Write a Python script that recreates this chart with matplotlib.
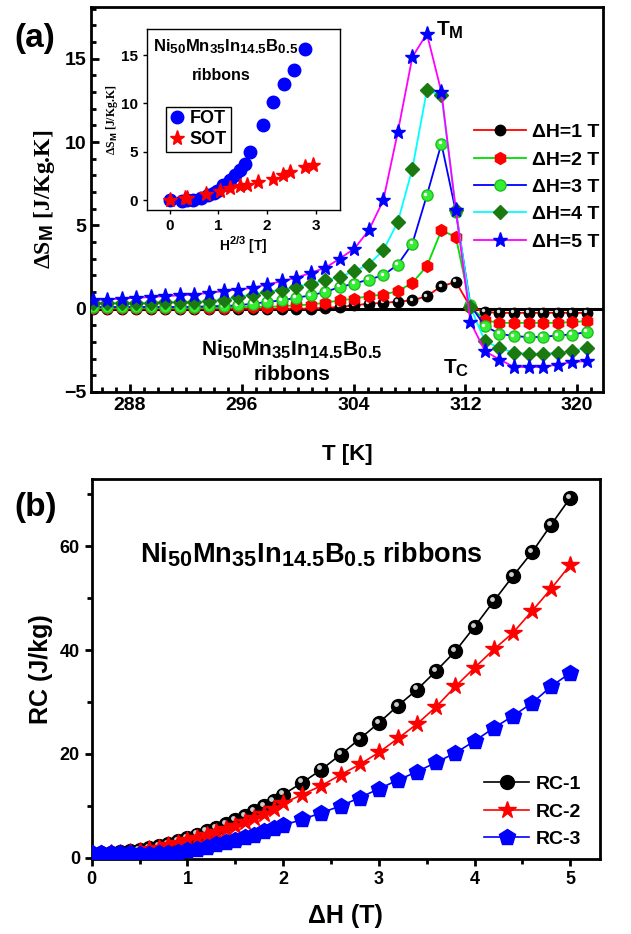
import matplotlib
matplotlib.use('Agg')
import matplotlib.pyplot as plt
import matplotlib._mathtext as _mt
from matplotlib.ticker import MultipleLocator
from matplotlib.transforms import offset_copy

_mt.SHRINK_FACTOR = 0.8

plt.rcParams['font.family'] = ['Liberation Sans', 'DejaVu Sans']
plt.rcParams['font.weight'] = 'bold'
plt.rcParams['axes.labelweight'] = 'bold'
plt.rcParams['mathtext.fontset'] = 'custom'
plt.rcParams['mathtext.rm'] = 'Liberation Sans:bold'
plt.rcParams['mathtext.bf'] = 'Liberation Sans:bold'
plt.rcParams['mathtext.it'] = 'Liberation Sans:bold'
plt.rcParams['mathtext.default'] = 'rm'

# ---------------- data: panel (a) ----------------
T = [285.33, 286.37, 287.41, 288.45, 289.49, 290.53, 291.57, 292.61, 293.65, 294.69,
     295.73, 296.77, 297.81, 298.85, 299.89, 300.93, 301.97, 303.01, 304.05, 305.09,
     306.13, 307.17, 308.21, 309.25, 310.29, 311.33, 312.37, 313.41, 314.45, 315.49,
     316.53, 317.57, 318.61, 319.65, 320.69]
dS_1T = [0.0, 0.0, 0.0, 0.0, 0.0, 0.0, 0.0, 0.0, 0.0, 0.0,
         0.0, 0.0, 0.0, 0.0, 0.0, 0.0, 0.05, 0.1, 0.2, 0.3,
         0.35, 0.42, 0.5, 0.75, 1.35, 1.6, 0.1, -0.2, -0.25, -0.25,
         -0.25, -0.25, -0.25, -0.25, -0.25]
dS_2T = [0.05, 0.05, 0.05, 0.05, 0.05, 0.05, 0.05, 0.05, 0.05, 0.05,
         0.1, 0.1, 0.1, 0.15, 0.2, 0.25, 0.35, 0.5, 0.6, 0.75,
         0.85, 1.05, 1.55, 2.55, 4.7, 4.3, 0.1, -0.7, -0.85, -0.85,
         -0.85, -0.85, -0.85, -0.8, -0.75]
dS_3T = [0.1, 0.1, 0.1, 0.1, 0.1, 0.1, 0.1, 0.1, 0.15, 0.15,
         0.2, 0.3, 0.4, 0.5, 0.65, 0.8, 1.0, 1.3, 1.5, 1.75,
         2.0, 2.65, 3.9, 6.8, 9.9, 5.8, 0.2, -1.05, -1.5, -1.65,
         -1.7, -1.7, -1.6, -1.55, -1.4]
dS_4T = [0.35, 0.35, 0.35, 0.35, 0.35, 0.4, 0.4, 0.4, 0.45, 0.55,
         0.7, 0.85, 1.0, 1.15, 1.3, 1.5, 1.7, 1.9, 2.25, 2.65,
         3.5, 5.2, 8.4, 13.1, 12.8, 5.9, 0.1, -1.95, -2.35, -2.65,
         -2.7, -2.7, -2.65, -2.55, -2.35]
dS_5T = [0.5, 0.55, 0.6, 0.65, 0.7, 0.75, 0.8, 0.85, 0.95, 1.05,
         1.15, 1.25, 1.45, 1.65, 1.85, 2.15, 2.45, 3.0, 3.6, 4.7,
         6.5, 10.6, 15.1, 16.5, 13.0, 5.9, -0.8, -2.55, -3.05, -3.5,
         -3.5, -3.5, -3.35, -3.2, -3.15]
labels_a = ['ΔH=1 T', 'ΔH=2 T', 'ΔH=3 T', 'ΔH=4 T', 'ΔH=5 T']

# inset
fot_x = [0, 0.24, 0.36, 0.48, 0.64, 0.79, 0.9, 0.96, 1.09, 1.23, 1.33, 1.44, 1.54,
         1.64, 1.91, 2.12, 2.34, 2.55, 2.77]
fot_y = [0, -0.1, 0.0, 0.0, 0.2, 0.5, 0.8, 1.0, 1.55, 2.1, 2.6, 3.1, 3.8,
         5.0, 7.75, 10.2, 12.0, 13.5, 15.6]
sot_x = [0, 0.31, 0.36, 0.75, 1.03, 1.24, 1.44, 1.58, 1.81, 2.12, 2.33, 2.48, 2.77, 2.94]
sot_y = [0, 0.2, 0.25, 0.6, 1.0, 1.3, 1.45, 1.6, 1.85, 2.2, 2.6, 2.9, 3.4, 3.6]

# ---------------- data: panel (b) ----------------
dH = [0.0, 0.1, 0.2, 0.3, 0.4, 0.5, 0.6, 0.7, 0.8, 0.9, 1.0, 1.1, 1.2, 1.3, 1.4,
      1.5, 1.6, 1.7, 1.8, 1.9, 2.0, 2.2, 2.4, 2.6, 2.8, 3.0, 3.2, 3.4, 3.6, 3.8,
      4.0, 4.2, 4.4, 4.6, 4.8, 5.0]
RC1 = [0.8, 0.9, 1.0, 1.2, 1.4, 1.6, 1.9, 2.3, 2.7, 3.3, 3.9, 4.5, 5.1, 5.8, 6.5,
       7.3, 8.1, 9.0, 10.0, 11.0, 12.2, 14.5, 17.0, 19.9, 22.9, 26.0, 29.3, 32.4, 36.0, 39.8,
       44.5, 49.4, 54.2, 58.8, 64.1, 69.3]
RC2 = [0.8, 0.85, 0.9, 1.0, 1.2, 1.4, 1.7, 2.0, 2.4, 2.9, 3.4, 3.9, 4.4, 5.0, 5.6,
       6.2, 6.9, 7.6, 8.5, 9.5, 10.5, 12.2, 13.9, 16.0, 18.0, 20.3, 23.0, 25.8, 29.1, 33.0,
       36.6, 40.1, 43.3, 47.5, 51.8, 56.4]
RC3 = [1.0, 1.0, 1.0, 1.0, 0.9, 0.8, 0.8, 0.9, 1.0, 1.2, 1.5, 1.8, 2.2, 2.6, 3.0,
       3.5, 4.0, 4.5, 5.1, 5.7, 6.3, 7.4, 8.7, 10.0, 11.6, 13.3, 15.0, 16.6, 18.4, 20.2,
       22.5, 25.0, 27.3, 29.8, 33.0, 35.6]
labels_b = ['RC-1', 'RC-2', 'RC-3']

FORMULA = 'Ni$_{50}$Mn$_{35}$In$_{14.5}$B$_{0.5}$'

fig = plt.figure(figsize=(6.31, 9.34), dpi=100)

# ================= panel (a) =================
ax1 = fig.add_axes([0.1442, 0.5803, 0.8114, 0.4122])
ax1.axhline(0, color='black', lw=2.2, zorder=1)

styles = [
    dict(color='red', marker='o', mfc='black', mec='black', ms=7.5),
    dict(color='#00dd00', marker='h', mfc='red', mec='red', ms=8.5),
    dict(color='blue', marker='o', mfc='#33ee33', mec='#22bb22', ms=8),
    dict(color='cyan', marker='D', mfc='#1a7a10', mec='#1a7a10', ms=7.5),
    dict(color='magenta', marker='*', mfc='blue', mec='blue', ms=11),
]
data_a = [dS_1T, dS_2T, dS_3T, dS_4T, dS_5T]
hl = offset_copy(ax1.transData, fig=fig, x=-1.2, y=1.2, units='points')
for k, (vals, lab, st) in enumerate(zip(data_a, labels_a, styles)):
    ax1.plot(T, vals, lw=1.3, label=lab, zorder=3 + k, **st)
    if k in (0, 2):
        ax1.plot(T, vals, ls='none', marker='o', ms=2.5,
                 mfc='#dddddd' if k == 0 else 'white', mec='none',
                 transform=hl, zorder=3 + k)

ax1.set_xlim(285.2, 321.86)
ax1.set_ylim(-5, 18.1)
ax1.xaxis.set_major_locator(MultipleLocator(8))
ax1.xaxis.set_minor_locator(MultipleLocator(1))
ax1.yaxis.set_major_locator(MultipleLocator(5))
ax1.yaxis.set_minor_locator(MultipleLocator(1))
ax1.tick_params(which='both', direction='in', labelsize=14, width=2)
ax1.tick_params(which='major', length=6)
ax1.tick_params(which='minor', length=3.5)
for s in ax1.spines.values():
    s.set_linewidth(2)
ax1.set_xlabel('T [K]', fontsize=16, labelpad=22)
ax1.set_ylabel('ΔS$_M$ [J/Kg.K]', fontsize=17, family='Liberation Serif')
ax1.yaxis.set_label_coords(-0.066, 0.5)

ax1.legend(loc='upper left', bbox_to_anchor=(0.735, 0.878),
           bbox_transform=fig.transFigure, frameon=False, fontsize=14,
           handlelength=2.7, handletextpad=0.3, labelspacing=0.5, borderpad=0)
ax1.text(309.9, 16.7, 'T$_M$', fontsize=15, ha='left', va='center')
ax1.text(310.4, -3.6, 'T$_C$', fontsize=15, ha='left', va='center')
ax1.text(299.6, -2.5, FORMULA, fontsize=15, ha='center', va='center')
ax1.text(299.6, -3.95, 'ribbons', fontsize=15, ha='center', va='center')

# ---------- inset ----------
axi = fig.add_axes([0.233, 0.7752, 0.3058, 0.1938])
axi.plot(fot_x, fot_y, ls='none', marker='o', ms=9, mfc='blue', mec='blue', label='FOT')
axi.plot(sot_x, sot_y, ls='none', marker='*', ms=11, mfc='red', mec='red', label='SOT')
axi.set_xlim(-0.47, 3.5)
axi.set_ylim(-1.0, 17.7)
axi.xaxis.set_major_locator(MultipleLocator(1))
axi.yaxis.set_major_locator(MultipleLocator(5))
axi.tick_params(direction='out', labelsize=11, length=3, width=1)
for s in axi.spines.values():
    s.set_linewidth(1)
axi.set_xlabel('H$^{2/3}$ [T]', fontsize=10, labelpad=1)
axi.set_ylabel('ΔS$_M$ [J/Kg.K]', fontsize=8.5, family='Liberation Serif')
axi.yaxis.set_label_coords(-0.14, 0.5)
axi.text(0.03, 0.9, FORMULA, transform=axi.transAxes, fontsize=12, ha='left', va='center')
axi.text(0.23, 0.745, 'ribbons', transform=axi.transAxes, fontsize=11.5, ha='left', va='center')
axi.legend(loc='upper left', bbox_to_anchor=(0.1, 0.57), frameon=True, fancybox=False,
           edgecolor='black', fontsize=13, handlelength=0.8, handletextpad=0.3,
           borderpad=0.2, labelspacing=0.2, framealpha=1, borderaxespad=0)

fig.text(0.022, 0.959, '(a)', fontsize=24, ha='left', va='center')

# ================= panel (b) =================
ax2 = fig.add_axes([0.1453, 0.0803, 0.8056, 0.4069])
hl2 = offset_copy(ax2.transData, fig=fig, x=-1.5, y=1.5, units='points')
ax2.plot(dH, RC1, color='black', lw=1.2, marker='o', ms=10, mfc='black', mec='black',
         label=labels_b[0], zorder=3)
ax2.plot(dH, RC1, ls='none', marker='o', ms=3.5, mfc='#cccccc', mec='none',
         transform=hl2, zorder=3)
ax2.plot(dH, RC2, color='red', lw=1.2, marker='*', ms=13, mfc='red', mec='red',
         label=labels_b[1], zorder=4)
ax2.plot(dH, RC3, color='blue', lw=1.2, marker='p', ms=12, mfc='blue', mec='blue',
         label=labels_b[2], zorder=5)
ax2.set_xlim(0, 5.31)
ax2.set_ylim(-0.2, 72.9)
ax2.xaxis.set_major_locator(MultipleLocator(1))
ax2.xaxis.set_minor_locator(MultipleLocator(0.5))
ax2.yaxis.set_major_locator(MultipleLocator(20))
ax2.yaxis.set_minor_locator(MultipleLocator(10))
ax2.tick_params(which='both', direction='out', labelsize=13, width=2)
ax2.tick_params(which='major', length=5)
ax2.tick_params(which='minor', length=3.5)
for s in ax2.spines.values():
    s.set_linewidth(2)
ax2.set_xlabel('ΔH (T)', fontsize=18, labelpad=12)
ax2.set_ylabel('RC (J/kg)', fontsize=18)
ax2.yaxis.set_label_coords(-0.076, 0.5)
ax2.text(0.095, 0.8, FORMULA + ' ribbons', transform=ax2.transAxes, fontsize=19.5,
         ha='left', va='center')
ax2.legend(loc='upper left', bbox_to_anchor=(0.752, 0.18), bbox_transform=fig.transFigure,
           frameon=False, fontsize=14, handlelength=2.3, handletextpad=0.35,
           labelspacing=0.5, borderpad=0)
fig.text(0.022, 0.457, '(b)', fontsize=24, ha='left', va='center')

fig.savefig('out.png', dpi=100)
